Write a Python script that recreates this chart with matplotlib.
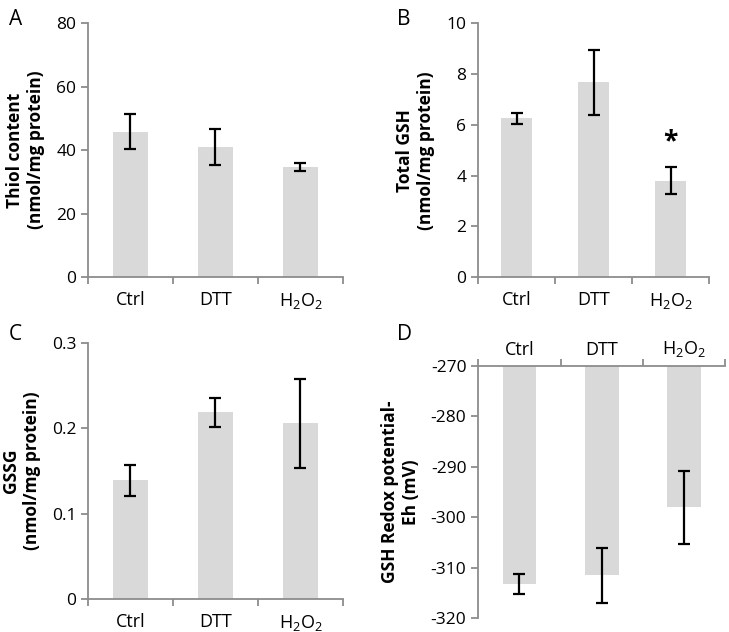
import matplotlib
matplotlib.use("Agg")
import matplotlib.pyplot as plt

plt.rcParams['font.family'] = ['Open Sans', 'DejaVu Sans']
plt.rcParams['axes.unicode_minus'] = False
plt.rcParams['mathtext.fontset'] = 'custom'
plt.rcParams['mathtext.rm'] = 'Open Sans'
plt.rcParams['mathtext.it'] = 'Open Sans'

groups = ['Ctrl', 'DTT', 'H$_2$O$_2$']

thiol = [45.8, 41.0, 34.7]
thiol_err = [5.4, 5.6, 1.2]

gsh = [6.25, 7.67, 3.80]
gsh_err = [0.2, 1.3, 0.53]

gssg = [0.139, 0.219, 0.206]
gssg_err = [0.018, 0.017, 0.052]

eh = [-313.2, -311.5, -298.0]
eh_err = [1.9, 5.5, 7.2]

bar_col = '#d9d9d9'
spine_col = '#8c8c8c'


def style_axes(ax, top=False):
    for s in ['right', 'top', 'bottom', 'left']:
        ax.spines[s].set_visible(False)
    xs = 'top' if top else 'bottom'
    for s in ['left', xs]:
        ax.spines[s].set_visible(True)
        ax.spines[s].set_color(spine_col)
        ax.spines[s].set_linewidth(1.3)
    ax.set_xlim(-0.5, 2.5)
    ax.set_xticks([0, 1, 2])
    ax.set_xticklabels(groups, fontsize=13)
    ax.set_xticks([-0.5, 0.5, 1.5, 2.5], minor=True)
    ax.tick_params(axis='x', which='minor', length=5, color=spine_col, width=1.3)
    ax.tick_params(axis='y', length=5, color=spine_col, width=1.3, labelsize=12.5)
    if top:
        # D panel: labels sit above the axis
        ax.xaxis.tick_top()
        ax.tick_params(axis='x', which='major', length=0, pad=5)
    else:
        ax.tick_params(axis='x', which='major', length=0, pad=10)


def bars(ax, vals, errs, bottom=0):
    x = range(len(vals))
    heights = [v - bottom for v in vals]
    ax.bar(x, heights, bottom=bottom, width=0.41, color=bar_col, zorder=1)
    ax.errorbar(x, vals, yerr=errs, fmt='none', ecolor='black', elinewidth=1.6,
                capsize=4.5, capthick=1.6, zorder=2)


fig = plt.figure(figsize=(7.29, 6.32), dpi=100)

axA = fig.add_axes([0.1207, 0.5617, 0.3498, 0.4019])
bars(axA, thiol, thiol_err)
axA.set_ylim(0, 80)
axA.set_yticks([0, 20, 40, 60, 80])
style_axes(axA)
axA.set_ylabel('Thiol content\n(nmol/mg protein)', fontsize=12.5, fontweight='bold', labelpad=8)

axB = fig.add_axes([0.6557, 0.5617, 0.3169, 0.4013])
bars(axB, gsh, gsh_err)
axB.set_ylim(0, 10)
axB.set_yticks([0, 2, 4, 6, 8, 10])
style_axes(axB)
axB.set_ylabel('Total GSH\n(nmol/mg protein)', fontsize=12.5, fontweight='bold', labelpad=8)
axB.text(2, gsh[2] + gsh_err[2] + 0.45, '*', ha='center', va='bottom', fontsize=19, fontweight='bold')

axC = fig.add_axes([0.1207, 0.0527, 0.3498, 0.4041])
bars(axC, gssg, gssg_err)
axC.set_ylim(0, 0.3)
axC.set_yticks([0, 0.1, 0.2, 0.3])
axC.set_yticklabels(['0', '0.1', '0.2', '0.3'])
style_axes(axC)
axC.set_ylabel('GSSG\n(nmol/mg protein)', fontsize=12.5, fontweight='bold', labelpad=8)

axD = fig.add_axes([0.6561, 0.0217, 0.3384, 0.3992])
bars(axD, eh, eh_err, bottom=-270)
axD.set_ylim(-320, -270)
axD.set_yticks([-320, -310, -300, -290, -280, -270])
style_axes(axD, top=True)
axD.set_ylabel('GSH Redox potential-\nEh (mV)', fontsize=12.5, fontweight='bold', labelpad=8)

for lab, (x, y) in zip('ABCD', [(0.012, 0.985), (0.545, 0.985), (0.012, 0.487), (0.545, 0.487)]):
    fig.text(x, y, lab, fontsize=15, ha='left', va='top')

fig.savefig('out.png', dpi=100)
